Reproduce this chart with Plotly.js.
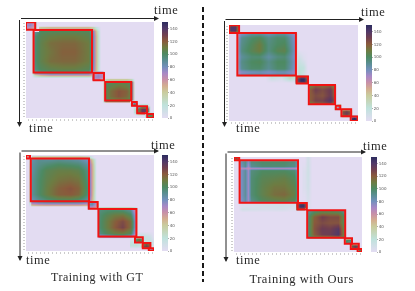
<!DOCTYPE html>
<html>
<head>
<meta charset="utf-8">
<script src="https://cdn.plot.ly/plotly-3.0.1.min.js"></script>
<style>
html,body{margin:0;padding:0;background:#fff;overflow:hidden}
#chart{width:415px;height:291px;filter:blur(0.4px)}
#chart .annotation-text{letter-spacing:0.5px}
</style>
</head>
<body>
<div id="chart"></div>
<script>
// ---------- colour scale stops (value, colour)
const scaleValues = [0,20,40,50,60,70,80,90,100,110,120,130,140,150];
const scaleColors = ['#e3dcf2','#bfe2dc','#c9cc9e','#d3ae90','#c890a8','#a888c6','#7390bc','#5a8e92','#4d8a62','#6e7c42','#8a5a3c','#703f50','#503868','#2c2c5e'];
const barTicks = [0,20,40,60,80,100,120,140];

// ---------- red segment boxes [x0,x1,y0,y1]
const rects1 = [[0,2.3,0.1,2.6],[1.9,16.5,2.7,16.8],[16.9,19.5,17,19.4],[19.8,26.3,20,26.2],[26.5,27.7,26.7,27.9],[27.8,30.25,28.1,30.4],[30.3,31.9,30.7,32]];
const rects2 = [[0,2.5,0.1,2.7],[2.07,16.6,2.7,16.8],[16.8,19.6,17.2,19.5],[19.8,26.3,20,26.4],[26.5,27.6,26.9,28.1],[27.9,30.3,28.1,30.4],[30.2,31.9,30.5,32]];
const rects3 = [[0,1,0.1,1.2],[1.2,15.75,1.2,15.4],[15.7,17.9,15.7,17.9],[18.1,27.6,18,27.2],[27.25,29.2,27.4,29.2],[29.2,31.1,29.3,31.1],[30.7,31.9,31.1,32]];
const rects4 = [[0,1.3,0.1,1.1],[1.4,16,1.1,15.4],[15.9,18.2,15.5,17.7],[18.3,27.8,17.9,27.2],[27.7,29.5,27.4,29.2],[29.2,31.2,29.2,31],[30.9,32,31,32]];

// ---------- panel 1 (top left)
const p1Bx=[1.4,2,3.5,6,9,12,15.5,16.6,17.5,18.5];
const p1By=[2,2.8,4.5,7,10,13,15.5,16.8,17.7,18.6];
const p1Bz=[
[0,20,40,45,45,45,45,35,15,0],
[0,85,100,102,102,102,102,85,35,0],
[0,95,104,108,110,110,106,88,42,0],
[0,96,106,114,116,116,110,88,42,0],
[0,96,106,112,118,118,110,88,42,0],
[0,96,106,114,116,116,110,88,42,0],
[0,94,102,106,108,108,104,85,40,0],
[0,80,90,92,92,92,90,72,32,0],
[0,30,50,60,60,60,60,45,20,0],
[0,0,0,0,0,0,0,0,0,0]];
const p1Ax=[0,1,2,2.8];
const p1Ay=[0,1,2,2.8];
const p1Az=[[60,70,60,0],[70,75,60,0],[60,60,50,0],[0,0,0,0]];
const p1Cx=[17,18,19,19.8];
const p1Cy=[17,18,19,19.6];
const p1Cz=[[60,70,65,0],[70,75,65,0],[60,60,60,0],[0,0,0,0]];
const p1Dx=[19,19.8,21,23,25,26.3,27];
const p1Dy=[19.3,20,21.5,23,24.5,26.2,27];
const p1Dz=[
[0,30,40,40,40,30,0],
[0,98,102,104,104,98,0],
[0,102,108,114,110,102,0],
[0,104,114,122,118,104,0],
[0,104,114,122,116,104,0],
[0,98,104,108,106,98,0],
[0,0,0,0,0,0,0]];
const p1Fx=[27.3,28,29,29.8,30.5,31];
const p1Fy=[27.6,28.2,29,29.8,30.4,31];
const p1Fz=[
[0,15,20,20,12,0],
[15,70,105,105,70,10],
[20,105,135,135,105,10],
[20,105,135,135,105,10],
[12,70,100,100,70,8],
[0,10,10,8,8,0]];
const p1Ex=[26.2,26.6,27.1,27.7];
const p1Ey=[26.4,26.8,27.3,27.8];
const p1Ez=[[0,12,15,12],[12,60,80,60],[15,80,100,80],[12,60,80,60]];
const p1Gx=[30,30.5,31.2,31.9,32];
const p1Gy=[30.4,30.8,31.4,32];
const p1Gz=[[0,20,20,20,10],[20,95,105,95,30],[20,100,110,100,30],[20,95,105,95,30]];

// ---------- panel 2 (top right)
const p2Px=[16.8,17.5,18.5,19.5];
const p2Py=[8,11,14,16.9];
const p2Pz=[[0,0,0,0],[16,12,4,0],[22,20,18,0],[26,22,10,0]];
const p2Qx=[9,10.5,13,15,16.8];
const p2Qy=[16.9,17.8,19.2];
const p2Qz=[[0,18,14,30,22],[0,12,6,26,14],[0,0,0,0,0]];
const p2Bx=[1.8,2.3,3,5.5,7.5,9.7,12,13.8,15.5,16.5,17];
const p2By=[2.4,2.9,4,6.5,8.5,10.5,12,14.5,15.5,16.6,17];
const p2Bz=[
[0,0,0,0,0,0,0,0,0,0,0],
[0,70,78,88,88,82,88,88,78,70,0],
[0,75,90,98,102,92,98,98,84,74,0],
[0,78,92,102,110,94,100,102,86,76,0],
[0,78,94,104,110,94,104,106,88,76,0],
[0,76,88,96,96,86,94,96,84,74,0],
[0,78,92,100,102,92,100,100,86,76,0],
[0,76,90,98,98,90,98,98,84,74,0],
[0,70,76,80,82,78,82,82,76,70,0],
[0,72,80,86,86,82,86,86,78,72,0],
[0,0,0,0,0,0,0,0,0,0,0]];
const p2Ax=[0,0.5,1.5,2.3,2.6];
const p2Ay=[0,0.5,1.5,2.5,2.8];
const p2Az=[[110,125,125,100,0],[125,140,140,105,0],[125,140,140,105,0],[100,105,105,90,0],[0,0,0,0,0]];
const p2Cx=[16.9,17.7,18.6,19.5,19.8];
const p2Cy=[17.2,17.8,18.6,19.4,19.7];
const p2Cz=[[110,130,130,105,0],[130,148,148,115,0],[130,148,148,115,0],[105,115,115,100,0],[0,0,0,0,0]];
const p2Dx=[19.6,20,21.5,23,25,26.2,26.5];
const p2Dy=[19.7,20.2,21.5,23.5,25,26.2,26.6];
const p2Dz=[
[0,0,0,0,0,0,0],
[0,105,118,115,120,105,0],
[0,118,130,125,132,115,0],
[0,118,125,122,132,118,0],
[0,118,128,128,140,122,0],
[0,105,118,120,125,110,0],
[0,0,0,0,0,0,0]];
const p2Ex=[26.4,27,27.5,27.8];
const p2Ey=[26.7,27.4,28,28.3];
const p2Ez=[[0,30,30,0],[30,80,70,0],[30,70,60,0],[0,0,0,0]];
const p2Fx=[27.8,28.2,29,29.9,30.4];
const p2Fy=[28,28.4,29.2,30.1,30.5];
const p2Fz=[[0,40,40,40,0],[40,115,125,115,40],[40,125,132,125,40],[40,115,125,115,40],[0,40,40,40,0]];
const p2Gx=[30.2,30.6,31.1,31.6,32];
const p2Gy=[30.4,30.8,31.3,31.8,32];
const p2Gz=[[0,80,80,80,40],[80,135,150,135,60],[80,150,150,150,60],[80,135,150,135,60],[40,60,60,60,30]];

// ---------- panel 3 (bottom left)
const p3Bx=[1,1.4,3,5,8,11,13,15.5,16.3,17,17.6];
const p3By=[0.7,1.3,3,5,8,11,13,15.4,16,16.6,17.2];
const p3Bz=[
[0,30,40,40,40,40,40,30,12,0,0],
[20,84,90,88,90,88,86,78,45,20,0],
[25,86,92,96,100,98,96,86,58,25,0],
[30,86,96,104,108,108,106,92,60,28,0],
[30,88,98,106,112,114,112,94,60,28,0],
[30,88,98,108,118,122,118,96,60,28,0],
[30,88,98,108,118,120,116,94,60,25,0],
[25,80,88,92,96,96,92,84,52,25,0],
[15,66,74,76,76,76,76,68,42,20,0],
[5,40,45,48,48,48,48,42,25,10,0],
[0,0,0,0,0,0,0,0,0,0,0]];
const p3Ax=[0,0.4,1,1.3];
const p3Ay=[0,0.5,1.1,1.4];
const p3Az=[[20,45,30,0],[45,70,45,0],[30,45,30,0],[0,0,0,0]];
const p3Cx=[15.8,16.5,17.2,17.9,18.1];
const p3Cy=[15.7,16.3,17,17.9,18.1];
const p3Cz=[[70,85,75,50,0],[85,85,70,45,0],[70,70,60,40,0],[50,45,40,30,0],[0,0,0,0,0]];
const p3Px=[26.5,27.5,29,31,32];
const p3Py=[25.5,27,29,30,31];
const p3Pz=[[0,0,0,0,0],[0,14,18,10,0],[16,18,16,18,6],[20,22,14,16,6],[0,0,0,8,0]];
const p3Dx=[17.8,18.2,20,22,24,26,27.4,27.9];
const p3Dy=[17.6,18.1,20,22,24,26,27.2,27.7];
const p3Dz=[
[0,25,30,30,30,30,18,0],
[0,94,96,96,94,88,55,0],
[0,96,104,110,112,102,68,0],
[0,96,108,118,125,114,72,0],
[0,96,108,120,128,114,72,0],
[0,92,102,108,110,102,64,0],
[0,66,70,74,74,70,44,0],
[0,0,0,0,0,0,0,0]];
const p3Ex=[27.2,27.6,28.2,28.8,29.2];
const p3Ey=[27.4,27.8,28.3,28.8,29.2];
const p3Ez=[[0,30,35,30,0],[30,90,110,90,20],[35,105,120,100,20],[30,90,105,90,20],[0,20,20,20,0]];
const p3Fx=[29,29.4,30,30.7,31.1];
const p3Fy=[29.2,29.6,30.2,30.8,31.1];
const p3Fz=[[0,40,50,40,0],[40,110,125,110,30],[50,125,130,120,30],[40,110,120,110,30],[0,30,30,30,0]];
const p3Gx=[30.7,31,31.4,31.9];
const p3Gy=[31.1,31.4,31.7,32];
const p3Gz=[[0,30,30,20],[30,70,80,60],[30,70,80,60],[20,40,40,30]];

// ---------- panel 4 (bottom right)
const p4Px=[1,2,8,12,14,16];
const p4Py=[15.6,16.5,17.5,18.4];
const p4Pz=[[0,6,10,10,10,6],[0,4,8,10,8,4],[0,10,6,8,4,2],[0,0,0,0,0,0]];
const p4Qx=[17.6,18.5,19.5];
const p4Qy=[1,5,10,15];
const p4Qz=[[0,10,0],[4,12,0],[4,10,0],[0,6,0]];
const p4Bx=[1.2,1.6,2.8,3.5,4.3,7,10,12.5,15,15.9,16.2];
const p4By=[0.9,1.3,2.9,3.6,4.3,7,10,12.5,14.5,15.3,15.6];
const p4Bz=[
[0,0,0,0,0,0,0,0,0,0,0],
[0,82,92,78,94,98,98,98,94,82,0],
[0,78,90,72,90,96,96,96,92,80,0],
[0,65,68,62,68,68,68,68,66,64,0],
[0,76,88,72,94,100,100,100,96,82,0],
[0,76,88,72,96,104,106,108,102,86,0],
[0,76,88,72,96,106,112,112,106,88,0],
[0,76,88,72,96,106,114,116,108,88,0],
[0,74,86,72,92,102,106,108,102,86,0],
[0,70,78,70,82,88,88,88,86,80,0],
[0,0,0,0,0,0,0,0,0,0,0]];
const p4Ax=[0,0.5,1,1.4];
const p4Ay=[0,0.4,0.9,1.2];
const p4Az=[[80,110,100,0],[110,125,110,0],[90,100,90,0],[0,0,0,0]];
const p4Cx=[15.9,16.6,17.2,18,18.3];
const p4Cy=[15.5,16,16.6,17.5,17.8];
const p4Cz=[[100,125,125,100,0],[125,145,145,115,0],[125,145,145,115,0],[100,115,115,100,0],[0,0,0,0,0]];
const p4Dx=[18,18.5,20,22,24,26,27.4,27.9];
const p4Dy=[17.6,18.1,20,22,24,26,27,27.4];
const p4Dz=[
[0,0,0,0,0,0,0,0],
[0,90,96,100,100,98,90,0],
[0,96,118,130,125,125,100,0],
[0,96,120,125,122,122,100,0],
[0,96,122,132,130,138,102,0],
[0,96,120,130,132,140,104,0],
[0,90,98,100,100,100,92,0],
[0,0,0,0,0,0,0,0]];
const p4Ex=[27.7,28.1,28.6,29.3,29.6];
const p4Ey=[27.4,27.8,28.3,28.9,29.2];
const p4Ez=[[0,40,40,40,0],[40,95,105,95,20],[40,105,95,95,20],[40,95,95,90,20],[0,20,20,20,0]];
const p4Fx=[29.2,29.6,30.2,30.9,31.2];
const p4Fy=[29.2,29.6,30.1,30.6,31];
const p4Fz=[[0,40,45,40,0],[40,115,125,115,30],[45,125,135,125,30],[40,115,125,115,30],[0,30,30,30,0]];
const p4Gx=[31,31.2,31.5,31.9,32];
const p4Gy=[31,31.3,31.6,32];
const p4Gz=[[0,40,45,40,20],[40,100,110,90,30],[45,100,110,90,30],[30,60,60,50,20]];

const xFull=[0,32], yFull=[0,32], zEmpty=[[0,0],[0,0]];
const barTop=150;

// ---------- build
const W=415,H=291;
const fx=p=>p/W, fy=p=>1-p/H;
const colorscale=scaleValues.map((v,i)=>[v/barTop,scaleColors[i]]);

const panels=[
 {id:'',  box:[26,154,22,118],  bar:162, rects:rects1,
  blocks:[[p1Bx,p1By,p1Bz],[p1Ax,p1Ay,p1Az],[p1Cx,p1Cy,p1Cz],[p1Dx,p1Dy,p1Dz],[p1Fx,p1Fy,p1Fz],[p1Ex,p1Ey,p1Ez],[p1Gx,p1Gy,p1Gz]]},
 {id:'2', box:[229,358,25,121], bar:366, rects:rects2,
  blocks:[[p2Px,p2Py,p2Pz],[p2Qx,p2Qy,p2Qz],[p2Bx,p2By,p2Bz],[p2Ax,p2Ay,p2Az],[p2Cx,p2Cy,p2Cz],[p2Dx,p2Dy,p2Dz],[p2Ex,p2Ey,p2Ez],[p2Fx,p2Fy,p2Fz],[p2Gx,p2Gy,p2Gz]]},
 {id:'3', box:[26,154,155,251], bar:162, rects:rects3,
  blocks:[[p3Px,p3Py,p3Pz],[p3Bx,p3By,p3Bz],[p3Ax,p3Ay,p3Az],[p3Cx,p3Cy,p3Cz],[p3Dx,p3Dy,p3Dz],[p3Ex,p3Ey,p3Ez],[p3Fx,p3Fy,p3Fz],[p3Gx,p3Gy,p3Gz]]},
 {id:'4', box:[234,362,157,252], bar:371, rects:rects4,
  blocks:[[p4Px,p4Py,p4Pz],[p4Qx,p4Qy,p4Qz],[p4Bx,p4By,p4Bz],[p4Ax,p4Ay,p4Az],[p4Cx,p4Cy,p4Cz],[p4Dx,p4Dy,p4Dz],[p4Ex,p4Ey,p4Ez],[p4Fx,p4Fy,p4Fz],[p4Gx,p4Gy,p4Gz]]}
];

const traces=[], shapes=[], layout={
  width:W,height:H,margin:{l:0,r:0,t:0,b:0},paper_bgcolor:'#fff',plot_bgcolor:'#fff',showlegend:false
};
panels.forEach(p=>{
  const [x0,x1,y0,y1]=p.box;
  const axBase={ticks:'outside',ticklen:2,tickwidth:0.6,tickcolor:'#aaa',showticklabels:false,showgrid:false,zeroline:false,showline:false,fixedrange:true,dtick:1,tick0:0.5};
  layout['xaxis'+p.id]=Object.assign({},axBase,{domain:[fx(x0),fx(x1)],range:[0,32],anchor:'y'+p.id});
  layout['yaxis'+p.id]=Object.assign({},axBase,{domain:[fy(y1),fy(y0)],range:[32,0],anchor:'x'+p.id});
  traces.push({type:'heatmap',x:xFull,y:yFull,z:zEmpty,xaxis:'x'+p.id,yaxis:'y'+p.id,zmin:0,zmax:barTop,colorscale,
    showscale:true,hoverinfo:'skip',
    colorbar:{x:fx(p.bar),xanchor:'left',xpad:0,ypad:0,thickness:p.bar===366?5.5:6,thicknessmode:'pixels',
      len:y1-y0,lenmode:'pixels',y:fy(y1),yanchor:'bottom',outlinewidth:0,
      tickvals:barTicks,ticktext:barTicks.map(String),ticks:'outside',ticklen:1.5,tickwidth:0.6,tickcolor:'#777',
      tickfont:{size:4,color:'#555',family:'DejaVu Sans'}}});
  p.blocks.forEach(b=>traces.push({type:'heatmap',x:b[0],y:b[1],z:b[2],xaxis:'x'+p.id,yaxis:'y'+p.id,
    zmin:0,zmax:barTop,colorscale,showscale:false,zsmooth:'best',hoverinfo:'skip'}));
  p.rects.forEach(r=>shapes.push({type:'rect',xref:'x'+p.id,yref:'y'+p.id,x0:r[0],x1:r[1],y0:r[2],y1:r[3],
    line:{color:'#f01414',width:2},fillcolor:'rgba(0,0,0,0)',layer:'above'}));
});

// dashed divider
shapes.push({type:'line',xref:'paper',yref:'paper',x0:fx(203),x1:fx(203),y0:fy(7),y1:fy(282),line:{color:'#000',width:1.8,dash:'5px,3px'}});
layout.shapes=shapes;

const serif='"Liberation Serif", serif';
function label(text,x,y,size){return {xref:'paper',yref:'paper',x:fx(x),y:fy(y),text:text,showarrow:false,xanchor:'center',yanchor:'middle',
  font:{family:serif,size:size,color:'#2a2a2a'}};}
function arrow(x,y,dx,dy){return {xref:'paper',yref:'paper',x:fx(x),y:fy(y),ax:dx,ay:dy,axref:'pixel',ayref:'pixel',text:'',showarrow:true,
  arrowhead:2,arrowsize:1,arrowwidth:1,arrowcolor:'#222'};}
layout.annotations=[
  arrow(159,18.5,-139.5,0),arrow(19.5,127,0,-108.5),
  arrow(364,19.5,-140,0),arrow(224.5,127,0,-107.5),
  arrow(159,151,-139,0),arrow(20,261,0,-110),
  arrow(366,152,-140,0),arrow(226,262,0,-110),
  label('time',166,10,12.5),label('time',41,128,12.5),
  label('time',373,12,12.5),label('time',248,128,12.5),
  label('time',163,145,12.5),label('time',38,260,12.5),
  label('time',375,146,12.5),label('time',248,260,12.5),
  label('Training with GT',97,277,12),
  label('Training with Ours',302,279,12.5)
];

Plotly.newPlot('chart',traces,layout,{displayModeBar:false,staticPlot:true});
</script>
</body>
</html>
